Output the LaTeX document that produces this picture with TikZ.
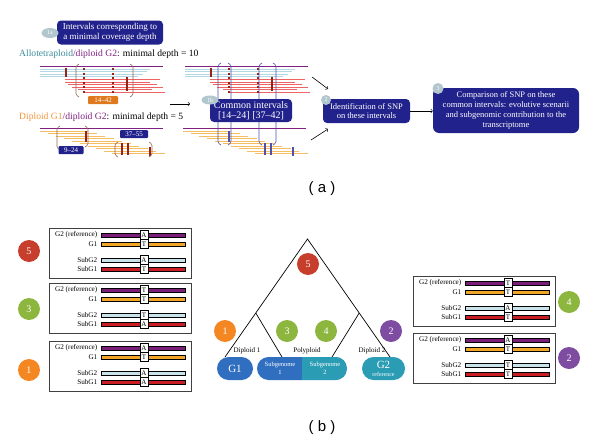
\documentclass[tikz,border=0pt]{standalone}
\usepackage{fontspec}
\setmainfont{Liberation Serif}
\setsansfont{Liberation Sans}
\usetikzlibrary{arrows,shapes.geometric,shapes.misc,positioning,calc}

\definecolor{boxblue}{RGB}{34,34,140}
\definecolor{badgegrey}{RGB}{178,198,206}
\definecolor{alloteal}{RGB}{58,140,155}
\definecolor{g2purple}{RGB}{128,32,128}
\definecolor{g1orange}{RGB}{240,150,60}
\definecolor{readblue}{RGB}{180,215,228}
\definecolor{readred}{RGB}{238,100,100}
\definecolor{readorange}{RGB}{246,190,100}
\definecolor{snpred}{RGB}{150,35,20}
\definecolor{intblue}{RGB}{80,80,170}
\definecolor{brk}{RGB}{150,100,80}
\definecolor{lblorange}{RGB}{224,120,30}
\definecolor{seqpurple}{RGB}{122,30,122}
\definecolor{seqorange}{RGB}{242,166,40}
\definecolor{seqblue}{RGB}{200,228,234}
\definecolor{seqred}{RGB}{200,30,36}
\definecolor{dotred}{RGB}{200,62,45}
\definecolor{dotgreen}{RGB}{140,182,62}
\definecolor{dotorange}{RGB}{245,135,35}
\definecolor{dotpurple}{RGB}{126,76,160}
\definecolor{gblue}{RGB}{48,110,192}
\definecolor{gteal}{RGB}{42,156,180}

\tikzstyle{every node}=[inner sep=1pt]
\tikzstyle{bluebox} = [rounded corners=4pt, fill=boxblue, text=white, align=center, inner sep=1.5pt]
\tikzstyle{badge} = [ellipse, fill=badgegrey, text=white, inner sep=0.5pt, font=\fontsize{6}{6}\selectfont]
\tikzstyle{arr} = [->, line width=0.6pt]
\tikzstyle{g2line} = [g2purple, line width=0.7pt]
\tikzstyle{blueread} = [readblue, line width=0.8pt]
\tikzstyle{redread} = [readred, line width=0.8pt]
\tikzstyle{orangeread} = [readorange, line width=0.8pt]
\tikzstyle{snpmark} = [line width=2pt]
\tikzstyle{snpdash} = [snpred, line width=1.6pt, dash pattern=on 2pt off 2.5pt]
\tikzstyle{numlbl} = [fill=boxblue, text=white, rounded corners=1pt, font=\fontsize{7}{7}\selectfont, minimum height=8pt, inner sep=0.5pt]
\tikzstyle{panelbox} = [draw=black!75, line width=0.8pt, minimum width=142pt, minimum height=50pt, inner sep=0pt]
\tikzstyle{seqbar} = [draw=black, line width=0.4pt]
\tikzstyle{seqlab} = [anchor=east, font=\fontsize{7.2}{7.2}\selectfont, inner sep=0.5pt]
\tikzstyle{basebox} = [draw=black, fill=white, line width=0.5pt, minimum width=8pt, minimum height=9pt, inner sep=0pt, font=\fontsize{7}{7}\selectfont]
\tikzstyle{num} = [circle, minimum size=22pt, inner sep=0pt, text=white, font=\fontsize{10}{10}\selectfont]
\tikzstyle{pill} = [rounded rectangle, minimum height=23pt, inner sep=0pt, text=white, align=center]
\tikzstyle{branch} = [line width=0.7pt]

% interval brackets
\newcommand{\lbrk}[4]{\draw[#1, line width=0.6pt, rounded corners=1.5pt] (#2+3,#3) -- (#2,#3+2) -- (#2,#4-2) -- (#2+3,#4);}
\newcommand{\rbrk}[4]{\draw[#1, line width=0.6pt, rounded corners=1.5pt] (#2-3,#3) -- (#2,#3+2) -- (#2,#4-2) -- (#2-3,#4);}

% reads of the allotetraploid against G2
\newcommand{\allotetrareads}{%
  \draw[g2line] (40,66) -- (163,66);
  \foreach \yy/\xe in {69/150,71.5/147,74/143,76.5/138}
    \draw[blueread] (40,\yy) -- (\xe,\yy);
  \foreach \yy/\xs/\xe in {79.5/65/160,82/65/150,84.5/68/157,87/72/163,89.5/78/152,92/85/165}
    \draw[redread] (\xs,\yy) -- (\xe,\yy);
  \draw[snpmark, snpred] (66,68) -- (66,77);
  \draw[snpdash] (84,68) -- (84,93);
  \draw[snpdash] (113,68) -- (113,93);
  \draw[snpmark, snpred] (127,77) -- (127,91);
}

% reads of diploid G1 against G2
\newcommand{\diploidreads}[1]{%
  \draw[g2line] (40,128) -- (163,128);
  \foreach \i in {0,...,9}
    \draw[orangeread] (40+8*\i,131+2.5*\i) -- (88+8.5*\i,131+2.5*\i);
  \draw[snpmark, #1] (86,131) -- (86,142);
  \draw[snpmark, #1] (122,143) -- (122,155);
  \draw[snpmark, #1] (128,143) -- (128,155);
  \draw[snpmark, #1] (150,147) -- (150,156);
}

% one alignment box of panel (b)
\newcommand{\snpbox}[6]{%
  \begin{scope}[shift={#2}]
    \node[panelbox] (#1) at (71,25) {};
    \foreach \yy/\col/\lab/\base [count=\i] in {7/seqpurple/G2 (reference)/#3,16/seqorange/G1/#4,32/seqblue/SubG2/#5,41/seqred/SubG1/#6}{
      \draw[seqbar, fill=\col] (52,\yy-1.8) rectangle (136,\yy+1.8);
      \node[seqlab] (#1-l\i) at (49,\yy) {\lab};
      \node[basebox] (#1-b\i) at (95,\yy) {\base};
    }
  \end{scope}}

\begin{document}
\begin{tikzpicture}[x=1pt,y=-1pt,>=to,font=\fontsize{9}{10}\selectfont]
\useasboundingbox (0,0) rectangle (600,442);

%%% panel (a)
\allotetrareads
\begin{scope}[xshift=145pt] \allotetrareads \end{scope}
\diploidreads{snpred}
\begin{scope}[xshift=143pt] \diploidreads{intblue} \end{scope}

\lbrk{brk}{76}{64}{97} \rbrk{brk}{133}{64}{97}
\lbrk{brk}{57}{126}{150} \rbrk{brk}{88}{126}{147}
\lbrk{brk}{115}{142}{157} \rbrk{brk}{152}{142}{157}

\lbrk{intblue}{218}{63}{145} \rbrk{intblue}{231}{63}{145}
\lbrk{intblue}{259}{63}{145} \rbrk{intblue}{276}{63}{145}

\node[fill=lblorange, text=white, rounded corners=1pt, font=\fontsize{7}{7}\selectfont, minimum width=30pt, minimum height=8pt, inner sep=0.5pt] (int1442) at (103,100) {14--42};
\node[numlbl, minimum width=25pt] (int924) at (71,150) {9--24};
\node[numlbl, minimum width=28pt] (int3755) at (134,134) {37--55};

\node[anchor=west, font=\fontsize{9.6}{10}\selectfont] (alloline) at (18,54) {\textcolor{alloteal}{Allotetraploid}\textcolor{g2purple}{/diploid G2}: minimal depth = 10};
\node[anchor=west, font=\fontsize{9.6}{10}\selectfont] (diplline) at (18,117) {\textcolor{g1orange}{Diploid G1}\textcolor{g2purple}{/diploid G2}: minimal depth = 5};

\node[bluebox, minimum width=106pt, minimum height=24pt] (intervals) at (110,32.5) {Intervals corresponding to\\a minimal coverage depth};
\node[bluebox, minimum width=82pt, minimum height=23pt, font=\fontsize{10}{10.5}\selectfont] (common) at (251,110.5) {Common intervals\\{[14--24] [37--42]}};
\node[bluebox, minimum width=87pt, minimum height=24pt, font=\fontsize{8.5}{9.5}\selectfont] (ident) at (366.5,111) {Identification of SNP\\on these intervals};
\node[bluebox, minimum width=146pt, minimum height=45pt, rounded corners=6pt, font=\fontsize{8.5}{9.8}\selectfont] (comp) at (506,110.5) {Comparison of SNP on these\\common intervals: evolutive scenarii\\and subgenomic contribution to the\\transcriptome};

\node[badge, minimum width=17pt, minimum height=10pt] (b1a) at (50,33) {1a};
\node[badge, minimum width=17pt, minimum height=9pt] (b1b) at (210,100) {1b};
\node[badge, minimum size=10pt] (b2) at (326,100) {2};
\node[badge, minimum size=11pt] (b3) at (438,88.5) {3};

\coordinate (arrAs) at (170,104);
\coordinate (arrAe) at (190,104);
\coordinate (arrBs) at (312,77);
\coordinate (arrBe) at (328,89);
\coordinate (arrCs) at (311,140);
\coordinate (arrCe) at (328,129);
\draw[arr] (arrAs) -- (arrAe);
\draw[arr] (arrBs) -- (arrBe);
\draw[arr] (arrCs) -- (arrCe);
\draw[arr] (ident.east) -- (comp.west |- ident.east);

\node[font=\sffamily\fontsize{15}{15}\selectfont] (capa) at (322,189) {( a )};

%%% panel (b)
\snpbox{box5}{(49,228)}{A}{T}{A}{T}
\snpbox{box3}{(49,283)}{T}{T}{T}{A}
\snpbox{box1}{(49,341)}{A}{T}{A}{A}
\snpbox{box4}{(413,276)}{T}{T}{A}{T}
\snpbox{box2}{(413,333)}{A}{T}{T}{T}

\node[num, fill=dotred] (l5) at (29,251) {5};
\node[num, fill=dotgreen] (l3) at (29,309) {3};
\node[num, fill=dotorange] (l1) at (29,370) {1};
\node[num, fill=dotgreen] (r4) at (569,302) {4};
\node[num, fill=dotpurple] (r2) at (569,358) {2};

% tree
\coordinate (apex) at (307.5,239);
\coordinate (g1end) at (225,357);
\coordinate (g2end) at (390,357);
\coordinate (sub1end) at (282,357);
\coordinate (sub2end) at (332,357);
\coordinate (lsplit) at ($(apex)!0.627!(g1end)$);
\coordinate (rsplit) at ($(apex)!0.627!(g2end)$);
\draw[branch] (g1end) -- (apex) -- (g2end);
\draw[branch] (lsplit) -- (sub1end);
\draw[branch] (rsplit) -- (sub2end);

\node[num, fill=dotred] (t5) at (308,264) {5};
\node[num, fill=dotorange] (t1) at (225,331) {1};
\node[num, fill=dotgreen] (t3) at (287,331) {3};
\node[num, fill=dotgreen] (t4) at (326,331) {4};
\node[num, fill=dotpurple] (t2) at (391,331) {2};

\node[font=\fontsize{7}{7}\selectfont] (dip1) at (247,351) {Diploid 1};
\node[font=\fontsize{7}{7}\selectfont] (poly) at (307,351) {Polyploid};
\node[font=\fontsize{7}{7}\selectfont] (dip2) at (372,351) {Diploid 2};

\node[pill, fill=gblue, minimum width=36pt, font=\fontsize{11}{11}\selectfont] (g1) at (235,368.5) {G1};
\node[pill, fill=gblue, minimum width=90pt, path picture={\fill[gteal] (path picture bounding box.north) rectangle (path picture bounding box.south east);}] (subs) at (302,368.5) {};
\node[text=white, align=center, font=\fontsize{6.5}{8}\selectfont] (sub1) at (280,368.5) {Subgenome\\1};
\node[text=white, align=center, font=\fontsize{6.5}{8}\selectfont] (sub2) at (325,368.5) {Subgenome\\2};
\node[pill, fill=gteal, minimum width=43pt, font=\fontsize{11}{10}\selectfont] (g2) at (383.5,368.5) {G2\\[-2pt]{\fontsize{6}{6}\selectfont reference}};

\node[font=\sffamily\fontsize{15}{15}\selectfont] (capb) at (322,428) {( b )};
\end{tikzpicture}
\end{document}
